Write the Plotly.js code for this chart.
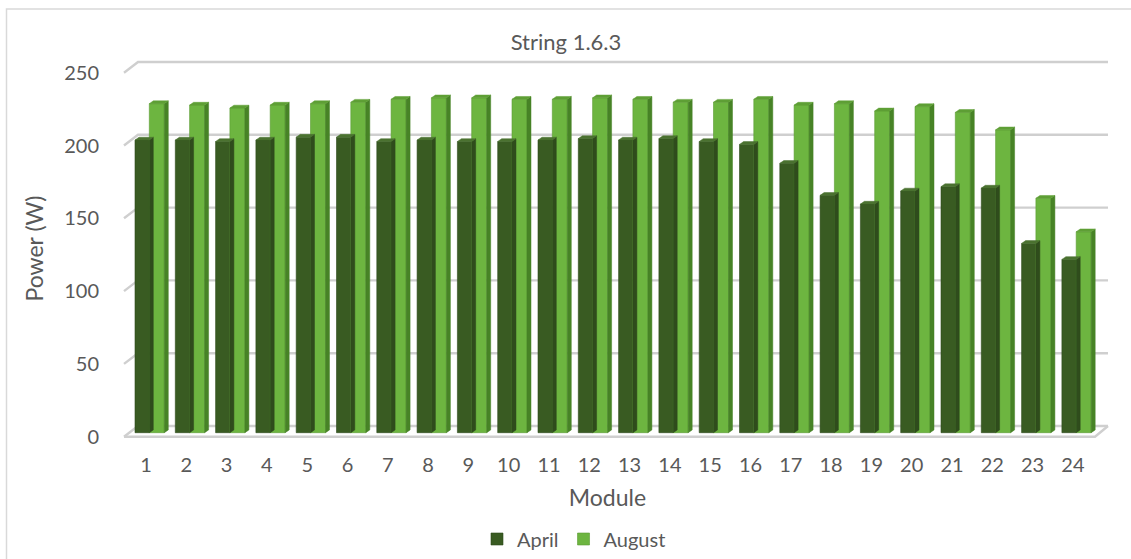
<!DOCTYPE html>
<html>
<head>
<meta charset="utf-8">
<script src="https://cdn.plot.ly/plotly-3.0.1.min.js"></script>
<style>
  html, body { margin: 0; padding: 0; background: #ffffff; }
  #chart { width: 1131px; height: 559px; }
</style>
</head>
<body>
<div id="chart"></div>
<script>
// Module numbers along the string and measured power per module (W)
const modules = [1, 2, 3, 4, 5, 6, 7, 8, 9, 10, 11, 12, 13, 14, 15, 16, 17, 18, 19, 20, 21, 22, 23, 24];
const moduleLabels = ['1', '2', '3', '4', '5', '6', '7', '8', '9', '10', '11', '12',
                      '13', '14', '15', '16', '17', '18', '19', '20', '21', '22', '23', '24'];
const april = [201, 201, 200, 201, 203, 203, 200, 201, 200, 200, 201, 202,
               201, 202, 200, 198, 185, 163, 157, 166, 169, 168, 130, 119];
const august = [226, 225, 223, 225, 226, 227, 229, 230, 230, 229, 229, 230,
                229, 227, 227, 229, 225, 226, 221, 224, 220, 208, 161, 138];
const powerTicks = [0, 50, 100, 150, 200, 250];
const seriesNames = ['April', 'August'];

// ---- geometry of the pseudo-3D box (pixels) ----
const W = 1131, H = 559;
const margin = { l: 100, r: 16, t: 50, b: 112 };
const plotW = W - margin.l - margin.r;
const plotH = H - margin.t - margin.b;
const PX_PER_MODULE = 40.3;
const PX_PER_WATT = 1.456;
const firstTickPx = 146;          // screen x of module 1
const barBasePx = 432.7;          // screen y of 0 W on the bar plane

const xr0 = 1 - (firstTickPx - margin.l) / PX_PER_MODULE;
const xr1 = xr0 + plotW / PX_PER_MODULE;
const yr0 = -(margin.t + plotH - barBasePx) / PX_PER_WATT;
const yr1 = yr0 + plotH / PX_PER_WATT;

const xOf = px => xr0 + (px - margin.l) / PX_PER_MODULE;   // screen px -> x data
const dX = px => px / PX_PER_MODULE;
const dY = px => px / PX_PER_WATT;

// wall planes relative to the bar plane
const frontDrop = dY(4);      // front edge sits below the bars
const backRise = dY(6.7);     // back wall sits above the bars
const wallFrontX = xOf(124), wallBackX = xOf(138), wallBackEndX = xOf(1108), floorFrontEndX = xOf(1095);

// bar slots within each module
const aprOffset = -0.273, aprWidth = 0.355;
const augOffset = 0.082, augWidth = 0.372;
const depthX = dX(4), depthY = dY(2.8);

const gridColor = '#cfcfcf';
const shapes = [];
powerTicks.forEach(v => {
  shapes.push({
    type: 'path', xref: 'x', yref: 'y', layer: 'below',
    path: `M ${wallFrontX} ${v - frontDrop} L ${wallBackX} ${v + backRise} L ${wallBackEndX} ${v + backRise}`,
    line: { color: gridColor, width: 2.4 }
  });
});
// floor front edge
shapes.push({
  type: 'path', xref: 'x', yref: 'y', layer: 'below',
  path: `M ${wallFrontX} ${-frontDrop} L ${floorFrontEndX} ${-frontDrop} L ${wallBackEndX} ${backRise}`,
  line: { color: gridColor, width: 2.4 }
});
// chart frame
const pxToPaperX = px => (px - margin.l) / plotW;
const pxToPaperY = py => 1 - (py - margin.t) / plotH;
shapes.push({
  type: 'rect', xref: 'paper', yref: 'paper', layer: 'below',
  x0: pxToPaperX(6.5), x1: pxToPaperX(W + 20), y0: pxToPaperY(H + 20), y1: pxToPaperY(9),
  line: { color: '#d9d9d9', width: 1.5 }, fillcolor: 'rgba(0,0,0,0)'
});

// polygons for the top and side faces of each column
function topFaces(values, offset, width) {
  const xs = [], ys = [];
  values.forEach((v, i) => {
    const x0 = modules[i] + offset, x1 = x0 + width;
    xs.push(x0, x0 + depthX, x1 + depthX, x1, x0, null);
    ys.push(v, v + depthY, v + depthY, v, v, null);
  });
  return { xs, ys };
}
function sideFaces(values, offset, width) {
  const xs = [], ys = [];
  values.forEach((v, i) => {
    const x1 = modules[i] + offset + width;
    xs.push(x1, x1 + depthX, x1 + depthX, x1, x1, null);
    ys.push(0, depthY, v + depthY, v, 0, null);
  });
  return { xs, ys };
}
function faceTrace(poly, color) {
  return {
    type: 'scatter', mode: 'lines', x: poly.xs, y: poly.ys,
    fill: 'toself', fillcolor: color,
    line: { color: color, width: 0.5 },
    hoverinfo: 'skip', showlegend: false
  };
}

const aprFront = '#395b22', aprTop = '#4b7230', aprSide = '#2f4c1c';
const augFront = '#6db540', augTop = '#5e9f35', augSide = '#478326';

const aprSideP = sideFaces(april, aprOffset, aprWidth);
const aprTopP = topFaces(april, aprOffset, aprWidth);
const augSideP = sideFaces(august, augOffset, augWidth);
const augTopP = topFaces(august, augOffset, augWidth);

const traces = [
  faceTrace(aprSideP, aprSide),
  {
    type: 'bar', name: seriesNames[0], x: modules, y: april,
    offset: aprOffset, width: aprWidth,
    marker: { color: aprFront, line: { color: '#2e4a1b', width: 0.6 } }
  },
  faceTrace(aprTopP, aprTop),
  faceTrace(augSideP, augSide),
  {
    type: 'bar', name: seriesNames[1], x: modules, y: august,
    offset: augOffset, width: augWidth,
    marker: { color: augFront, line: { color: '#5a9a33', width: 0.6 } }
  },
  faceTrace(augTopP, augTop)
];

const textColor = '#595959';
const font = 'Lato, "Open Sans", sans-serif';

const layout = {
  width: W, height: H,
  margin: margin,
  paper_bgcolor: '#ffffff', plot_bgcolor: 'rgba(0,0,0,0)',
  font: { family: font, color: textColor },
  title: {
    text: 'String 1.6.3',
    x: 566 / W, xref: 'container', xanchor: 'center',
    y: 1 - 42 / H, yref: 'container', yanchor: 'middle',
    font: { family: font, size: 22, color: textColor }
  },
  barmode: 'overlay',
  showlegend: true,
  legend: {
    orientation: 'h',
    x: 574 / W, xref: 'container', xanchor: 'center',
    y: 1 - 539 / H, yref: 'container', yanchor: 'middle',
    font: { family: font, size: 20, color: textColor },
    itemwidth: 30,
    traceorder: 'normal'
  },
  xaxis: {
    range: [xr0, xr1],
    tickmode: 'array', tickvals: modules, ticktext: moduleLabels,
    showgrid: false, zeroline: false, showline: false, ticks: '',
    ticklabelstandoff: 4,
    tickfont: { family: font, size: 20, color: textColor },
    title: { text: 'Module', font: { family: font, size: 23, color: textColor }, standoff: 14 },
    fixedrange: true
  },
  yaxis: {
    range: [yr0, yr1],
    tickmode: 'array',
    tickvals: powerTicks.map(v => v - frontDrop),
    ticktext: powerTicks.map(String),
    showgrid: false, zeroline: false, showline: false, ticks: '',
    tickfont: { family: font, size: 20, color: textColor },
    title: { text: 'Power (W)', font: { family: font, size: 23, color: textColor }, standoff: 14 },
    fixedrange: true
  },
  shapes: shapes
};

Plotly.newPlot('chart', traces, layout, { displayModeBar: false, staticPlot: true });
</script>
</body>
</html>
